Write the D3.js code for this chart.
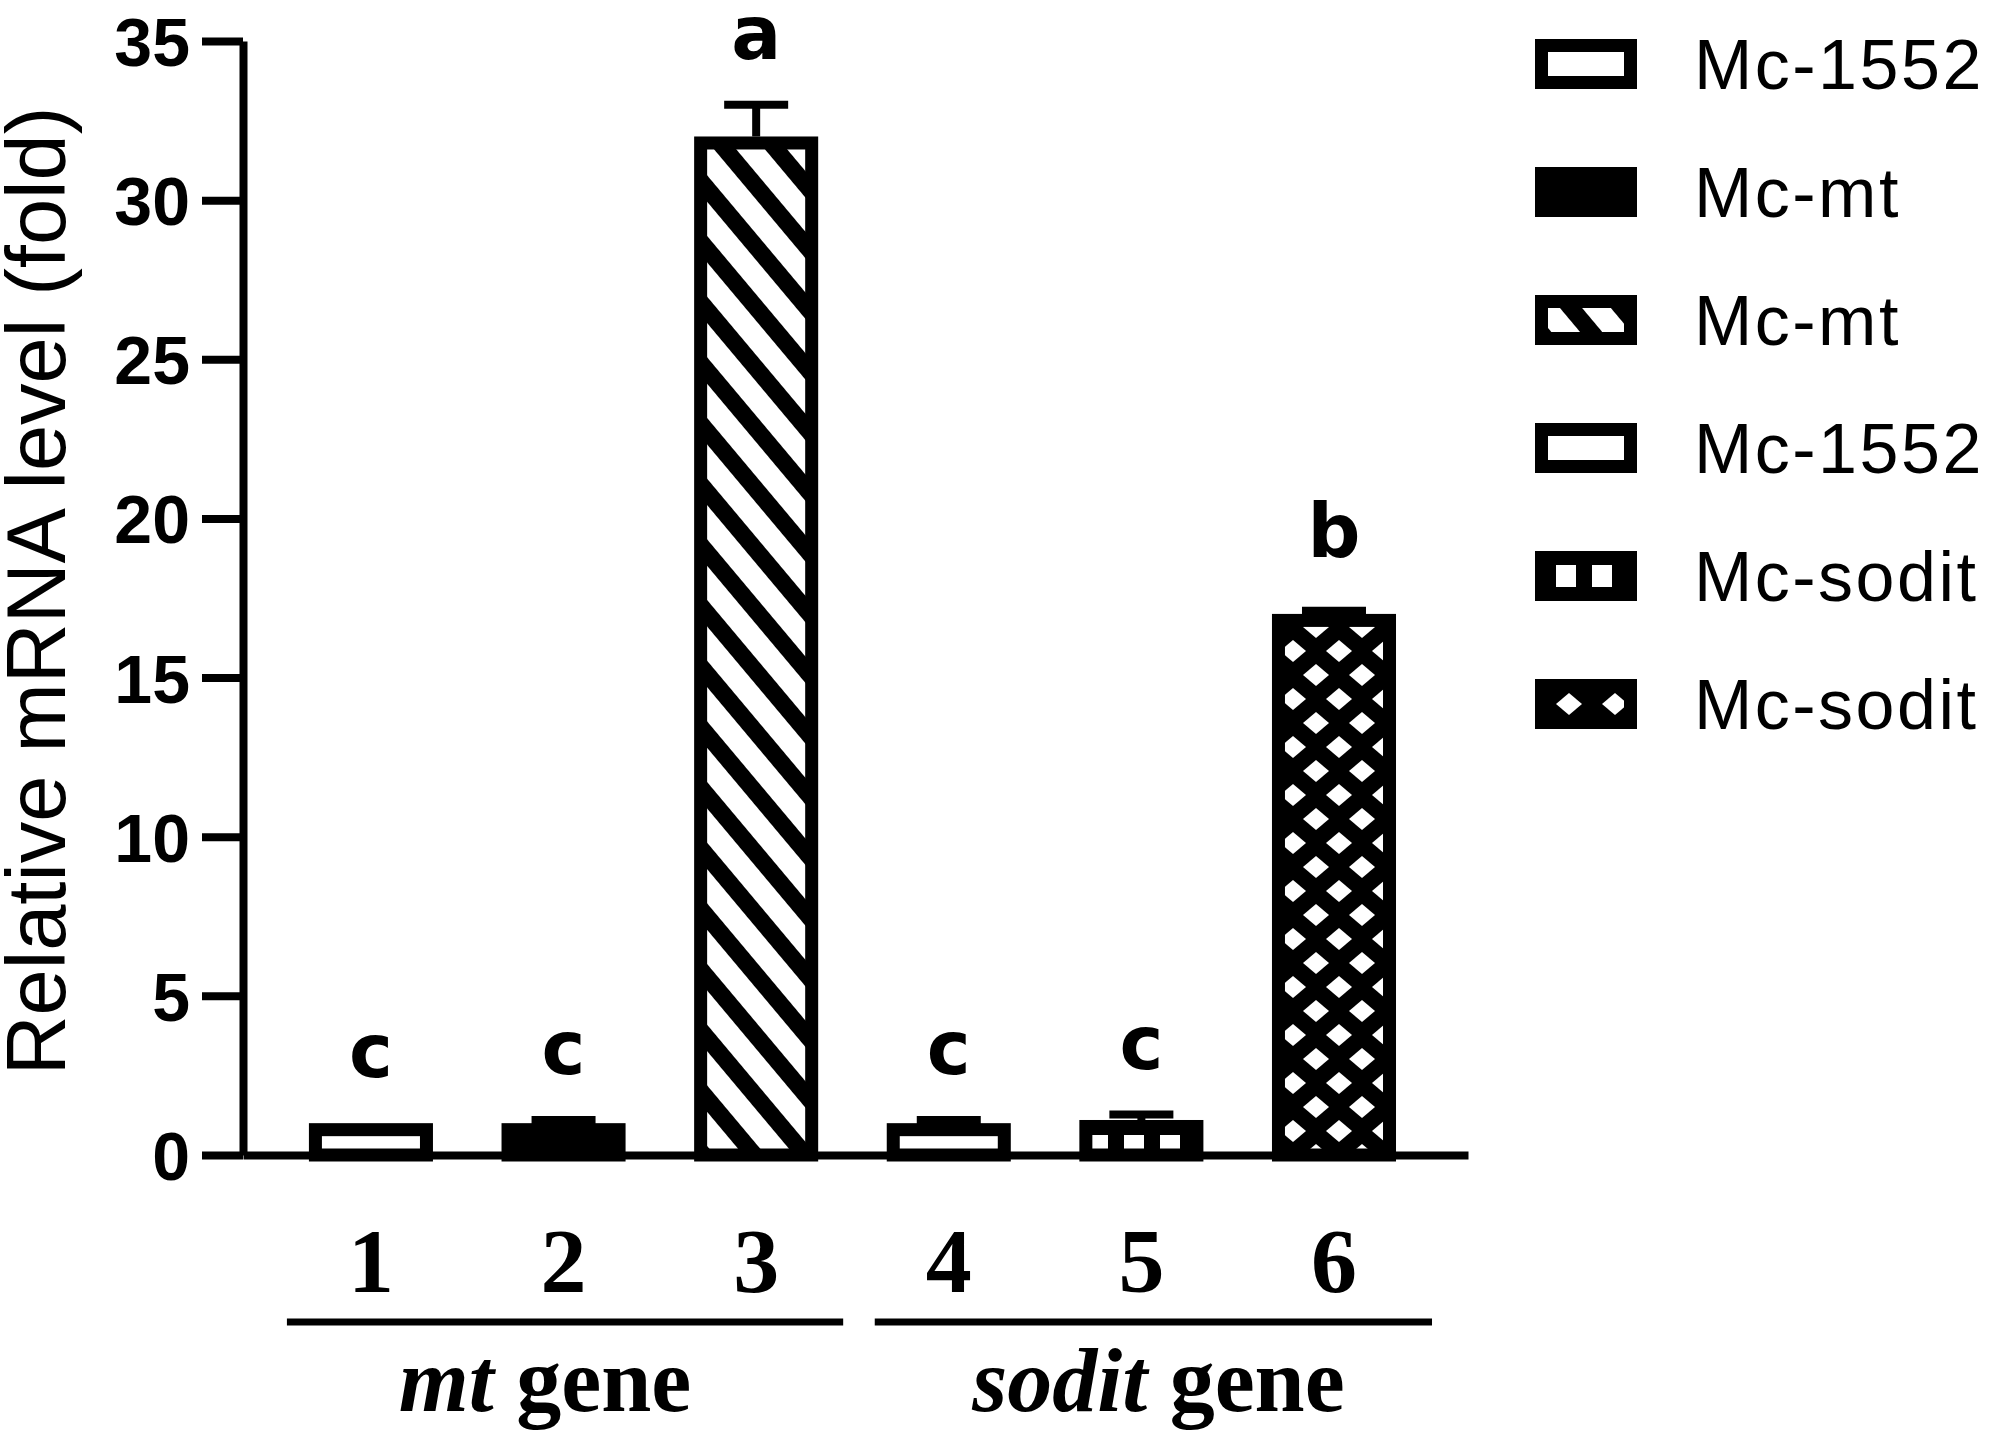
<!DOCTYPE html>
<html><head><meta charset="utf-8">
<script src="https://cdn.jsdelivr.net/npm/d3@7"></script>
<style>body{margin:0;background:#fff}</style>
</head><body>
<svg id="chart" width="1997" height="1444"></svg>
<script>
// ---- data ----
const categories = ["1", "2", "3", "4", "5", "6"];
const values = [1.0, 1.0, 32.0, 1.0, 1.1, 17.0];
const errors = [0, 0.1, 1.0, 0.1, 0.17, 0.1];
const letters = ["c", "c", "a", "c", "c", "b"];
const yTicks = [0, 5, 10, 15, 20, 25, 30, 35];
const legendLabels = ["Mc-1552", "Mc-mt", "Mc-mt", "Mc-1552", "Mc-sodit", "Mc-sodit"];
const groupNames = ["mt", "sodit"];
const groupFirst = ["1", "4"];
const groupLast = ["3", "6"];

// ---- styling ----
const fillKeys = ["white", "black", "url(#hatch)", "white", "url(#squares)", "url(#diamonds)"];
const legendFillKeys = ["white", "black", "url(#hatch)", "white", "url(#lsquares)", "url(#ldiamonds)"];
const svg = d3.select("#chart");
svg.append("rect").attr("width", 1997).attr("height", 1444).attr("fill", "#fff");

const defs = svg.append("defs");
const hatch = defs.append("pattern").attr("id", "hatch").attr("patternUnits", "userSpaceOnUse")
  .attr("width", 39).attr("height", 39).attr("patternTransform", "rotate(50)");
hatch.append("rect").attr("width", 39).attr("height", 39).attr("fill", "#fff");
hatch.append("rect").attr("width", 39).attr("height", 17).attr("fill", "#000");

function squares(id, y0) {
  const p = defs.append("pattern").attr("id", id).attr("patternUnits", "userSpaceOnUse")
    .attr("width", 36).attr("height", 36).attr("y", y0);
  p.append("rect").attr("width", 36).attr("height", 36).attr("fill", "#000");
  p.append("rect").attr("x", 8).attr("y", 7).attr("width", 20).attr("height", 22).attr("fill", "#fff");
}
squares("squares", 1155 - 27);
squares("lsquares", 576 - 18);

function diamonds(id, y0) {
  const p = defs.append("pattern").attr("id", id).attr("patternUnits", "userSpaceOnUse")
    .attr("width", 46).attr("height", 48).attr("x", 1270).attr("y", y0);
  p.append("rect").attr("width", 46).attr("height", 48).attr("fill", "#000");
  [[0, 0], [46, 0], [0, 48], [46, 48], [23, 24]].forEach(([cx, cy]) => {
    p.append("path").attr("d", `M${cx - 13},${cy} L${cx},${cy - 11} L${cx + 13},${cy} L${cx},${cy + 11} Z`).attr("fill", "#fff");
  });
}
diamonds("diamonds", 1155);
diamonds("ldiamonds", 704 - 24);

// ---- scales ----
const x = d3.scaleBand().domain(categories).range([243, 1468])
  .paddingInner(0.356).paddingOuter(0.358).align(0.478);
const y = d3.scaleLinear().domain([0, 35]).range([1155, 41]);

const SW = 13;
const data = categories.map((c, i) => ({ c, v: values[i], e: errors[i], l: letters[i], f: fillKeys[i] }));

// bars (border drawn inside so the outer edge = value)
svg.append("g").selectAll("rect").data(data).join("rect")
  .attr("x", d => x(d.c) + SW / 2)
  .attr("y", d => y(d.v) + SW / 2)
  .attr("width", x.bandwidth() - SW)
  .attr("height", d => y(0) - y(d.v) - SW / 2)
  .attr("fill", d => d.f)
  .attr("stroke", "#000").attr("stroke-width", SW);

// error bars
const eb = svg.append("g").attr("stroke", "#000").attr("stroke-width", 8);
data.filter(d => d.e > 0).forEach(d => {
  const cx = x(d.c) + x.bandwidth() / 2;
  eb.append("line").attr("x1", cx).attr("x2", cx).attr("y1", y(d.v)).attr("y2", y(d.v + d.e));
  eb.append("line").attr("x1", cx - 32).attr("x2", cx + 32).attr("y1", y(d.v + d.e)).attr("y2", y(d.v + d.e));
});

// significance letters
svg.append("g").selectAll("text").data(data).join("text")
  .attr("x", d => x(d.c) + x.bandwidth() / 2)
  .attr("y", d => y(d.v + d.e) - (d.l === "b" ? 54 : 46))
  .attr("text-anchor", "middle")
  .attr("font-family", "DejaVu Sans").attr("font-weight", "bold").attr("font-size", 74)
  .text(d => d.l);

// y axis
const yAxis = svg.append("g").attr("transform", "translate(243,0)")
  .call(d3.axisLeft(y).tickValues(yTicks).tickSize(41).tickSizeOuter(0).tickPadding(12));
yAxis.selectAll("path,line").attr("stroke", "#000").attr("stroke-width", 8);
yAxis.selectAll("text").attr("font-family", "Liberation Sans").attr("font-weight", "bold")
  .attr("font-size", 68).attr("fill", "#000").attr("dy", "0.36em");

// x axis
const xAxis = svg.append("g").attr("transform", "translate(0,1155)")
  .call(d3.axisBottom(x).tickSize(0).tickSizeOuter(0).tickPadding(72));
xAxis.select("path").attr("stroke", "#000").attr("stroke-width", 8);
xAxis.selectAll("text").attr("font-family", "Liberation Serif").attr("font-weight", "bold")
  .attr("font-size", 92).attr("fill", "#000").attr("dy", "0.71em");

// y title
svg.append("text").attr("transform", "translate(65,591) rotate(-90)")
  .attr("text-anchor", "middle").attr("font-family", "Liberation Sans").attr("font-size", 83)
  .text("Relative mRNA level (fold)");

// group lines & labels
const padL = [22, 12], padR = [25, 36], labelShift = [-20, 5];
groupNames.forEach((g, i) => {
  const x1 = x(groupFirst[i]) - padL[i], x2 = x(groupLast[i]) + x.bandwidth() + padR[i];
  svg.append("line").attr("x1", x1).attr("x2", x2).attr("y1", 1322).attr("y2", 1322)
    .attr("stroke", "#000").attr("stroke-width", 7);
  const t = svg.append("text").attr("x", (x1 + x2) / 2 + labelShift[i]).attr("y", 1411).attr("text-anchor", "middle")
    .attr("font-family", "Liberation Serif").attr("font-weight", "bold").attr("font-size", 90);
  t.append("tspan").attr("font-style", "italic").text(g);
  t.append("tspan").text(" gene");
});

// legend
const lg = svg.append("g");
legendLabels.forEach((lab, i) => {
  const cy = 64 + i * 128;
  lg.append("rect").attr("x", 1535 + SW / 2).attr("y", cy - 25 + SW / 2)
    .attr("width", 102 - SW).attr("height", 50 - SW)
    .attr("fill", legendFillKeys[i]).attr("stroke", "#000").attr("stroke-width", SW);
  lg.append("text").attr("x", 1694).attr("y", cy).attr("dy", "0.36em")
    .attr("font-family", "Liberation Sans").attr("font-size", 70).attr("letter-spacing", 2.5)
    .text(lab);
});
</script>
</body></html>
